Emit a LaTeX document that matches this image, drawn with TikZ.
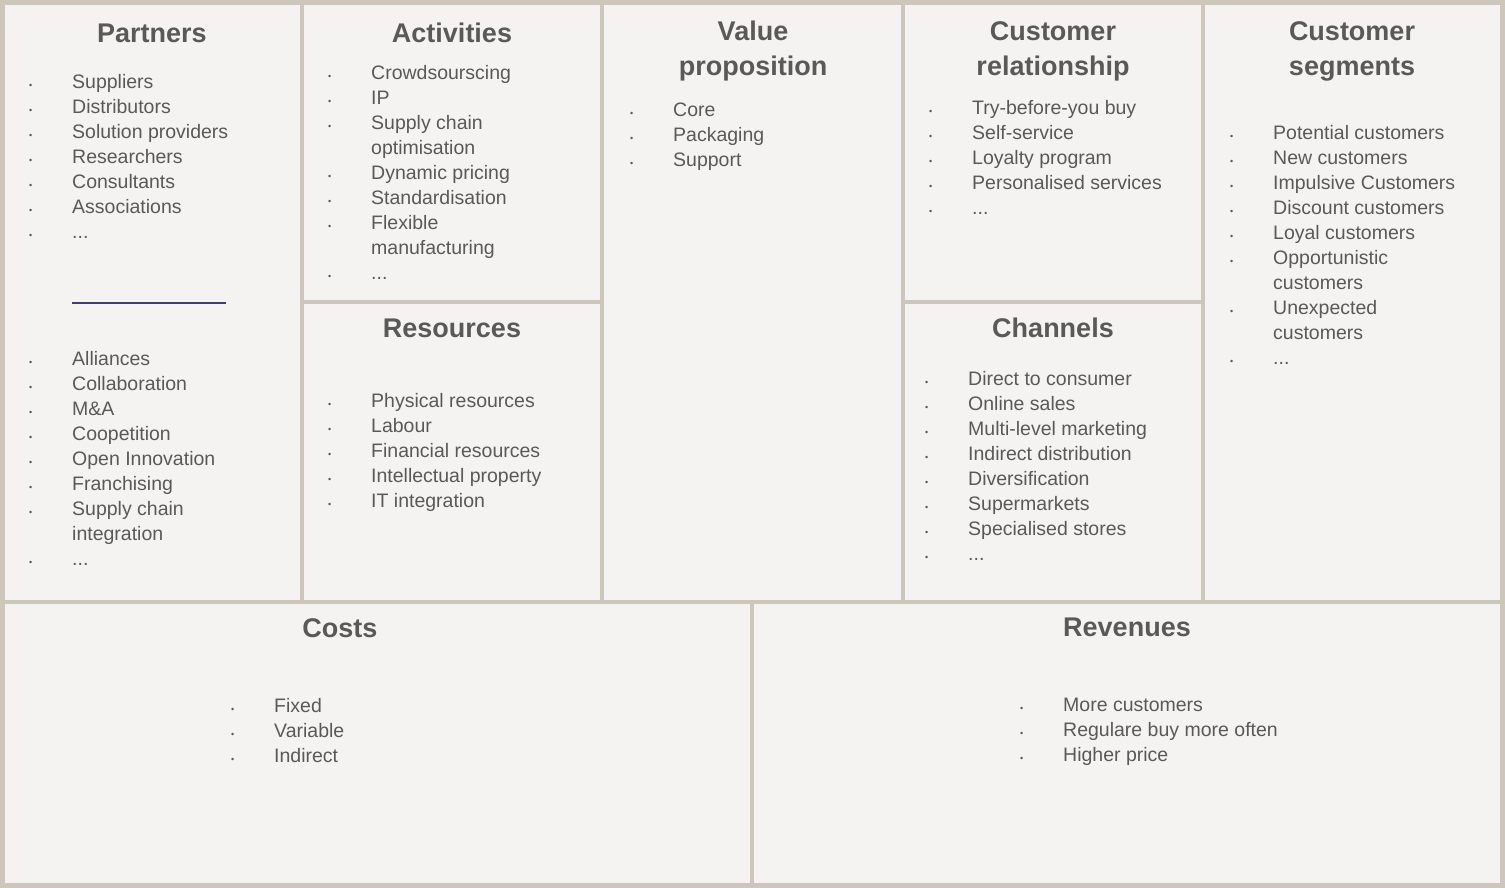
\documentclass[tikz,border=0pt]{standalone}
\usepackage{fontspec}
\setmainfont{Liberation Sans}
\definecolor{bg}{HTML}{F4F3F1}
\definecolor{bd}{HTML}{CDC6BA}
\definecolor{tx}{HTML}{595959}
\definecolor{ln}{HTML}{3F3A7A}
\newcommand\bl{\makebox[43pt][l]{\small\textbullet}}
\newcommand\nb{\makebox[43pt][l]{}}
\tikzset{
  box/.style={draw=bd,line width=4pt,fill=bg},
  ttl/.style={text=tx,font=\fontsize{27}{35}\selectfont\bfseries,align=center,inner sep=0},
  lst/.style={text=tx,font=\fontsize{19.5}{25}\selectfont,align=left,anchor=north west,inner sep=0},
}
\begin{document}
\begin{tikzpicture}[x=1pt,y=-1pt]
\useasboundingbox (0,0) rectangle (1505,888);
\fill[bd] (0,0) rectangle (1505,888);
\draw[box] (3,3) rectangle (302,602);
\draw[box] (302,3) rectangle (602,302);
\draw[box] (302,302) rectangle (602,602);
\draw[box] (602,3) rectangle (903,602);
\draw[box] (903,3) rectangle (1203,302);
\draw[box] (903,302) rectangle (1203,602);
\draw[box] (1203,3) rectangle (1502,602);
\draw[box] (3,602) rectangle (752,885);
\draw[box] (752,602) rectangle (1502,885);

\node[ttl] (tp) at (152,33) {Partners};
\node[ttl] (ta) at (452,33) {Activities};
\node[ttl] (tv) at (753,51) {Value\\proposition};
\node[ttl] (tc) at (1053,51) {Customer\\relationship};
\node[ttl] (ts) at (1352,51) {Customer\\segments};
\node[ttl] (tr) at (452,328) {Resources};
\node[ttl] (th) at (1053,328) {Channels};
\node[ttl] (tk) at (340,628) {Costs};
\node[ttl] (tv2) at (1127,627) {Revenues};

\node[lst] (lp1) at (29,74) {\bl Suppliers\\\bl Distributors\\\bl Solution providers\\\bl Researchers\\\bl Consultants\\\bl Associations\\\bl ...};
\coordinate (la) at (72,303); \coordinate (lb) at (226,303);
\draw[ln,line width=1.3pt] (la) -- (lb);
\node[lst] (lp2) at (29,351) {\bl Alliances\\\bl Collaboration\\\bl M\&A\\\bl Coopetition\\\bl Open Innovation\\\bl Franchising\\\bl Supply chain\\\nb integration\\\bl ...};
\node[lst] (la1) at (328,65) {\bl Crowdsourscing\\\bl IP\\\bl Supply chain\\\nb optimisation\\\bl Dynamic pricing\\\bl Standardisation\\\bl Flexible\\\nb manufacturing\\\bl ...};
\node[lst] (lr1) at (328,393) {\bl Physical resources\\\bl Labour\\\bl Financial resources\\\bl Intellectual property\\\bl IT integration};
\node[lst] (lv1) at (630,103) {\bl Core\\\bl Packaging\\\bl Support};
\node[lst] (lc1) at (929,100) {\bl Try-before-you buy\\\bl Self-service\\\bl Loyalty program\\\bl Personalised services\\\bl ...};
\node[lst] (lh1) at (925,371) {\bl Direct to consumer\\\bl Online sales\\\bl Multi-level marketing\\\bl Indirect distribution\\\bl Diversification\\\bl Supermarkets\\\bl Specialised stores\\\bl ...};
\node[lst] (ls1) at (1230,125) {\bl Potential customers\\\bl New customers\\\bl Impulsive Customers\\\bl Discount customers\\\bl Loyal customers\\\bl Opportunistic\\\nb customers\\\bl Unexpected\\\nb customers\\\bl ...};
\node[lst] (lk1) at (231,698) {\bl Fixed\\\bl Variable\\\bl Indirect};
\node[lst] (lv3) at (1020,698) {\bl More customers\\\bl Regulare buy more often\\\bl Higher price};
\end{tikzpicture}
\end{document}
